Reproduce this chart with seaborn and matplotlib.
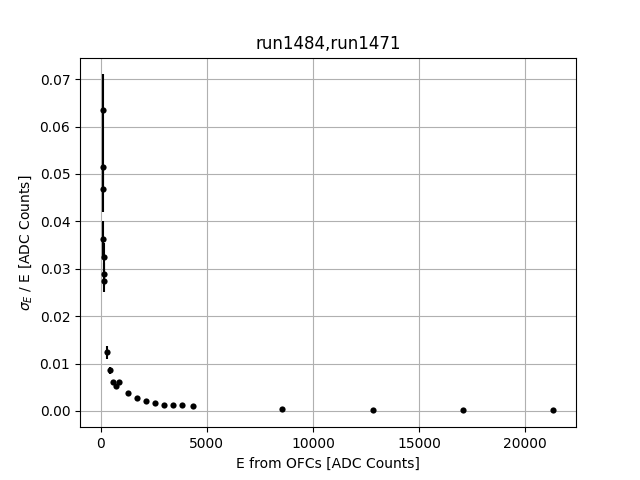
import matplotlib
matplotlib.use("Agg")
import matplotlib.pyplot as plt
import seaborn as sns
import pandas as pd

# energy from OFCs and relative resolution
energy = [85, 88, 92, 110, 150, 165, 175,
          297, 425, 580, 740, 865, 1290, 1712, 2137, 2563, 2987, 3412, 3836, 4325,
          8552, 12845, 17090, 21335]
sigma_rel = [0.0634, 0.0514, 0.0468, 0.0363, 0.0325, 0.0288, 0.0275,
             0.01234, 0.00855, 0.0061, 0.00526, 0.0061, 0.00372, 0.00267, 0.00217, 0.00168,
             0.0012, 0.0012, 0.0012, 0.001,
             0.00035, 0.00015, 0.00015, 0.00015]
sigma_err = [0.0076, 0.0046, 0.0049, 0.0038, 0.003, 0.0025, 0.0025,
             0.0013, 0.0007, 0.0004, 0.0003, 0.0003, 0.0002, 0.0001, 0.0001, 0.0001,
             0.0001, 0.0001, 0.0001, 0.0001,
             0.00005, 0.00003, 0.00003, 0.00003]

df = pd.DataFrame({"E": energy, "res": sigma_rel, "err": sigma_err})

fig, ax = plt.subplots(figsize=(6.4, 4.8), dpi=100)
ax.errorbar(df["E"], df["res"], yerr=df["err"], fmt="none", ecolor="k", elinewidth=1.5)
sns.scatterplot(data=df, x="E", y="res", ax=ax, color="k", s=20, edgecolor="k", linewidth=0)

ax.set_title("run1484,run1471")
ax.set_xlabel("E from OFCs [ADC Counts]")
ax.set_ylabel(r"$\sigma_E$ / E [ADC Counts]")
ax.grid(True)
ax.set_axisbelow(True)

fig.savefig("out.png")
